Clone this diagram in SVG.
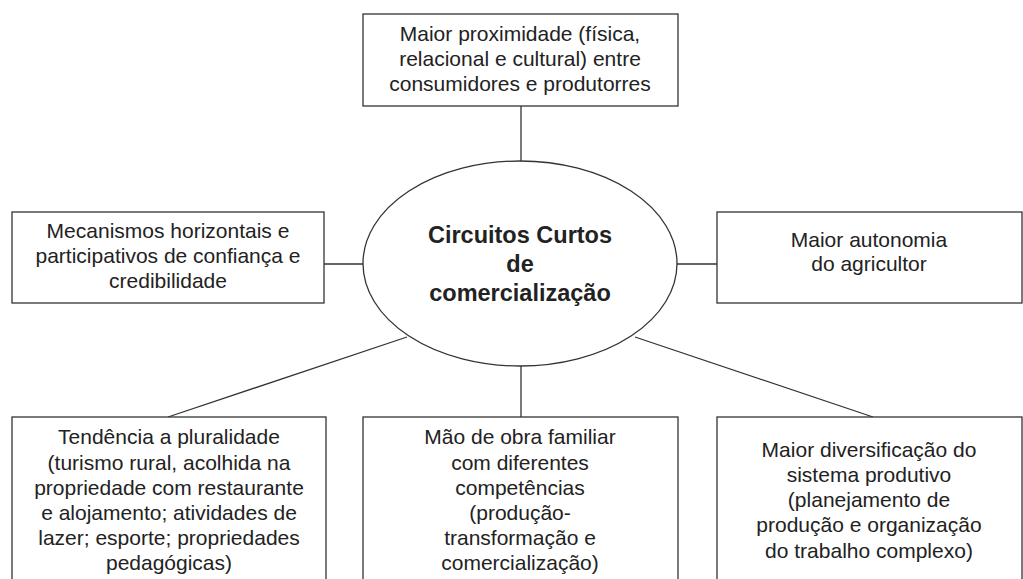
<svg xmlns="http://www.w3.org/2000/svg" width="1023" height="579" viewBox="0 0 1023 579">
<style>
.box{fill:#fff;stroke:#333;stroke-width:1.3}
.t{font-family:"Liberation Sans",Arial,sans-serif;font-size:21px;fill:#222;text-anchor:middle}
.b{font-family:"Liberation Sans",Arial,sans-serif;font-size:23.5px;font-weight:bold;fill:#222;text-anchor:middle}
.c{stroke:#333;stroke-width:1.3;fill:none}
</style>
<rect width="1023" height="579" fill="#fff"/>
<g id="connectors">
<line class="c" x1="521" y1="106" x2="521" y2="161"/>
<line class="c" x1="324" y1="264" x2="363" y2="264"/>
<line class="c" x1="677" y1="264" x2="717" y2="264"/>
<line class="c" x1="521" y1="366" x2="521" y2="417"/>
<line class="c" x1="168" y1="417" x2="407" y2="337"/>
<line class="c" x1="635" y1="337" x2="873" y2="417"/>
</g>
<g id="center">
<ellipse class="box" cx="520" cy="263.5" rx="157" ry="102.5"/>
<text class="b" x="520" y="243">Circuitos Curtos</text>
<text class="b" x="520" y="272">de</text>
<text class="b" x="520" y="301">comercialização</text>
</g>
<g id="top">
<rect class="box" x="363" y="14" width="315" height="92"/>
<text class="t" x="520" y="41">Maior proximidade (física,</text>
<text class="t" x="520" y="66">relacional e cultural) entre</text>
<text class="t" x="520" y="91">consumidores e produtorres</text>
</g>
<g id="left">
<rect class="box" x="12" y="212" width="312" height="91"/>
<text class="t" x="168" y="238">Mecanismos horizontais e</text>
<text class="t" x="168" y="263">participativos de confiança e</text>
<text class="t" x="168" y="288">credibilidade</text>
</g>
<g id="right">
<rect class="box" x="717" y="212" width="305" height="91"/>
<text class="t" x="869" y="247">Maior autonomia</text>
<text class="t" x="869" y="271">do agricultor</text>
</g>
<g id="bottom-left">
<rect class="box" x="12" y="417" width="314" height="180"/>
<text class="t" x="169" y="444">Tendência a pluralidade</text>
<text class="t" x="169" y="469.5">(turismo rural, acolhida na</text>
<text class="t" x="169" y="495">propriedade com restaurante</text>
<text class="t" x="169" y="520">e alojamento; atividades de</text>
<text class="t" x="169" y="545">lazer; esporte; propriedades</text>
<text class="t" x="169" y="570">pedagógicas)</text>
</g>
<g id="bottom-middle">
<rect class="box" x="363" y="417" width="315" height="180"/>
<text class="t" x="520" y="444">Mão de obra familiar</text>
<text class="t" x="520" y="469.5">com diferentes</text>
<text class="t" x="520" y="495">competências</text>
<text class="t" x="520" y="520">(produção-</text>
<text class="t" x="520" y="545">transformação e</text>
<text class="t" x="520" y="570">comercialização)</text>
</g>
<g id="bottom-right">
<rect class="box" x="717" y="417" width="305" height="180"/>
<text class="t" x="869" y="456.5">Maior diversificação do</text>
<text class="t" x="869" y="482">sistema produtivo</text>
<text class="t" x="869" y="507">(planejamento de</text>
<text class="t" x="869" y="532">produção e organização</text>
<text class="t" x="869" y="557.5">do trabalho complexo)</text>
</g>
</svg>
